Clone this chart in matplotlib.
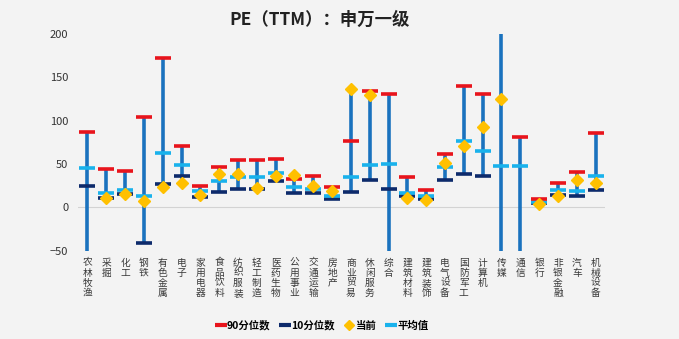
import numpy as np
import matplotlib.pyplot as plt
from matplotlib.lines import Line2D

plt.rcParams['font.family'] = ['Noto Sans CJK SC', 'DejaVu Sans']

# Shenwan level-1 industries
industries = ['农林牧渔', '采掘', '化工', '钢铁', '有色金属', '电子', '家用电器',
              '食品饮料', '纺织服装', '轻工制造', '医药生物', '公用事业', '交通运输',
              '房地产', '商业贸易', '休闲服务', '综合', '建筑材料', '建筑装饰',
              '电气设备', '国防军工', '计算机', '传媒', '通信', '银行', '非银金融',
              '汽车', '机械设备']

p90 = [87, 44, 42, 104, 172, 71, 24, 46, 54, 54, 56, 33, 36, 23, 76, 134,
       130, 35, 20, 61, 140, 130, 250, 81, 10, 28, 41, 86]
p10 = [25, 11, 15, -41, 27, 36, 12, 18, 21, 21, 30, 17, 16, 9, 18, 32,
       21, 13, 10, 32, 38, 36, -70, -60, 5.5, 14, 13, 20]
current = [-100, 11, 15, 7, 23, 28, 14, 38, 38, 22, 36, 37, 25, 19, 136, 129,
           -150, 11, 8, 51, 71, 92, 125, -120, 4, 13, 32, 28]
mean = [45, 16, 20, 13, 63, 49, 19, 30, 35, 35, 40, 23, 21, 13, 35, 49,
        50, 17, 13, 47, 76, 65, 48, 48, 6.5, 20, 19, 36]

RED = '#e8141c'
NAVY = '#0d2a6b'
GOLD = '#ffc000'
CYAN = '#19b2ec'
STEM = '#1a72be'
BG = '#f3f3f3'

fig = plt.figure(figsize=(6.79, 3.39), dpi=100, facecolor=BG)
ax = fig.add_axes([0.115, 0.2605, 0.776, 0.64])
ax.set_facecolor(BG)

x = np.arange(len(industries))
vals = np.array([p90, p10, current, mean], dtype=float)
lo = vals.min(axis=0)
hi = vals.max(axis=0)

ax.axhline(0, color='#d3d3d3', lw=0.8, zorder=1)
ax.vlines(x, lo, hi, color=STEM, lw=2.6, zorder=2)

dash = dict(marker='_', markersize=11, markeredgewidth=2.6, linestyle='none', zorder=3)
ax.plot(x, p10, color=NAVY, **dash)
ax.plot(x, mean, color=CYAN, **dash)
ax.plot(x, p90, color=RED, **dash)
ax.plot(x, current, marker='D', markersize=6.2, color=GOLD, linestyle='none', zorder=4)

ax.set_xlim(-0.5, len(industries) - 0.5)
ax.set_ylim(-50, 200)
ax.set_yticks([-50, 0, 50, 100, 150, 200])
ax.set_xticks(x)
ax.set_xticklabels(['\n'.join(name) for name in industries], fontsize=7,
                   linespacing=1.0, color='#3a3a3a', va='top')
ax.tick_params(axis='x', length=0, pad=5)
ax.tick_params(axis='y', length=0, pad=7, labelsize=8, labelcolor='#333333')
for s in ax.spines.values():
    s.set_visible(False)

fig.text(0.47, 0.94, 'PE（TTM）：申万一级', ha='center', va='center',
         fontsize=12.5, fontweight='bold', color='#222222')

handles = [
    Line2D([], [], color=RED, marker='_', markersize=9, markeredgewidth=3, linestyle='none'),
    Line2D([], [], color=NAVY, marker='_', markersize=9, markeredgewidth=3, linestyle='none'),
    Line2D([], [], color=GOLD, marker='D', markersize=5, linestyle='none'),
    Line2D([], [], color=CYAN, marker='_', markersize=9, markeredgewidth=3, linestyle='none'),
]
fig.legend(handles, ['90分位数', '10分位数', '当前', '平均值'], loc='center',
           bbox_to_anchor=(0.475, 0.04), ncol=4, frameon=False,
           handlelength=0.8, handletextpad=0.2, columnspacing=1.0,
           prop={'weight': 'bold', 'size': 7.5})

fig.savefig('out.png', dpi=100, facecolor=BG)
